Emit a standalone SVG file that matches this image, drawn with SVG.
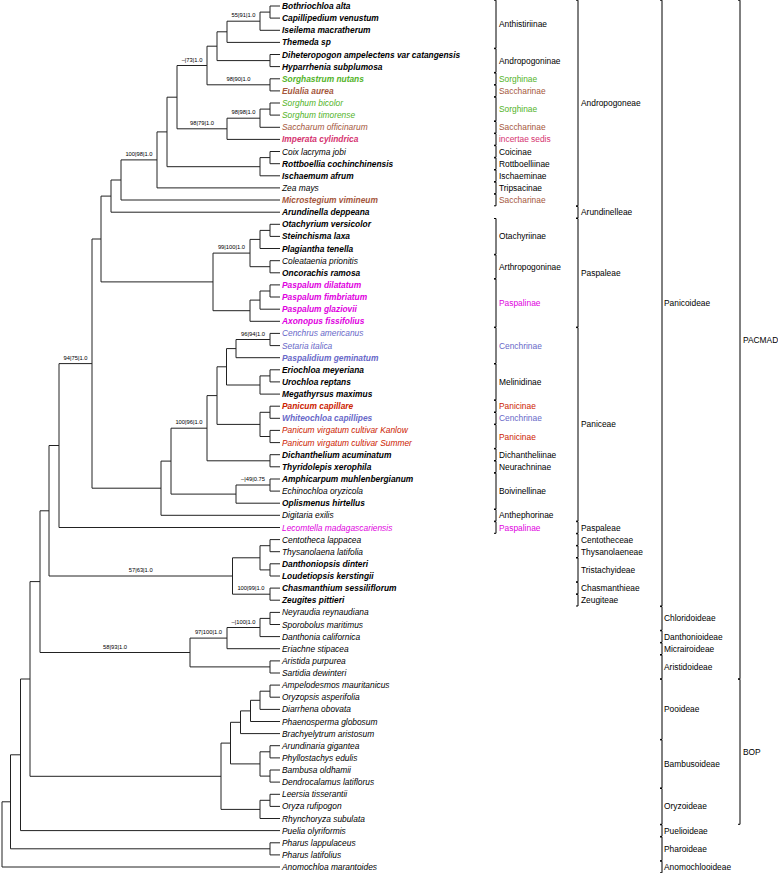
<svg xmlns="http://www.w3.org/2000/svg" width="778" height="873" viewBox="0 0 778 873">
<style>
text{font-family:"Liberation Sans",Arial,sans-serif;fill:#000}
.t{font-size:8.4px;font-style:italic}
.b{font-weight:bold}
.s{font-size:5.8px;text-anchor:middle}
.c{font-size:8.4px}
.g{fill:#52b328}.br{fill:#a5573c}.pk{fill:#d5336f}.mg{fill:#e000e0}.bl{fill:#6868c8}.rd{fill:#cc2200}
.e{fill:none;stroke:#222;stroke-width:1}
.k{fill:none;stroke:#000;stroke-width:1}
</style>
<rect width="778" height="873" fill="#fff"/>
<g id="connectors" class="e">
<path d="M270 6V18.1M270 6H280M270 18.1H280"/>
<path d="M260 12.1V30.3M260 12.1H270M260 30.3H280"/>
<path d="M227 21.2V42.4M227 21.2H260M227 42.4H280"/>
<path d="M270 54.5V66.6M270 54.5H280M270 66.6H280"/>
<path d="M217 31.8V60.6M217 31.8H227M217 60.6H270"/>
<path d="M270 78.8V90.9M270 78.8H280M270 90.9H280"/>
<path d="M207 46.2V84.8M207 46.2H217M207 84.8H270"/>
<path d="M270 103V115.1M270 103H280M270 115.1H280"/>
<path d="M260 109.1V127.3M260 109.1H270M260 127.3H280"/>
<path d="M227 118.2V139.4M227 118.2H260M227 139.4H280"/>
<path d="M177 65.5V128.8M177 65.5H207M177 128.8H227"/>
<path d="M270 151.5V163.7M270 151.5H280M270 163.7H280"/>
<path d="M260 157.6V175.8M260 157.6H270M260 175.8H280"/>
<path d="M167 97.2V166.7M167 97.2H177M167 166.7H260"/>
<path d="M157 131.9V187.9M157 131.9H167M157 187.9H280"/>
<path d="M121 159.9V200M121 159.9H157M121 200H280"/>
<path d="M111 180V212.2M111 180H121M111 212.2H280"/>
<path d="M270 224.3V236.4M270 224.3H280M270 236.4H280"/>
<path d="M260 230.4V248.5M260 230.4H270M260 248.5H280"/>
<path d="M270 260.7V272.8M270 260.7H280M270 272.8H280"/>
<path d="M250 239.4V266.7M250 239.4H260M250 266.7H270"/>
<path d="M270 284.9V297M270 284.9H280M270 297H280"/>
<path d="M260 291V309.2M260 291H270M260 309.2H280"/>
<path d="M250 300.1V321.3M250 300.1H260M250 321.3H280"/>
<path d="M213 253.1V310.7M213 253.1H250M213 310.7H250"/>
<path d="M101 196.1V281.9M101 196.1H111M101 281.9H213"/>
<path d="M270 333.4V345.6M270 333.4H280M270 345.6H280"/>
<path d="M236 339.5V357.7M236 339.5H270M236 357.7H280"/>
<path d="M270 369.8V381.9M270 369.8H280M270 381.9H280"/>
<path d="M260 375.9V394.1M260 375.9H270M260 394.1H280"/>
<path d="M226.5 348.6V385M226.5 348.6H236M226.5 385H260"/>
<path d="M270 406.2V418.3M270 406.2H280M270 418.3H280"/>
<path d="M270 430.4V442.6M270 430.4H280M270 442.6H280"/>
<path d="M260 412.3V436.5M260 412.3H270M260 436.5H270"/>
<path d="M217 366.8V424.4M217 366.8H226.5M217 424.4H260"/>
<path d="M270 454.7V466.8M270 454.7H280M270 466.8H280"/>
<path d="M207 395.6V460.8M207 395.6H217M207 460.8H270"/>
<path d="M270 479V491.1M270 479H280M270 491.1H280"/>
<path d="M236 485V503.2M236 485H270M236 503.2H280"/>
<path d="M171 428.2V494.1M171 428.2H207M171 494.1H236"/>
<path d="M161 461.1V515.3M161 461.1H171M161 515.3H280"/>
<path d="M92 239V488.2M92 239H101M92 488.2H161"/>
<path d="M59 363.6V527.5M59 363.6H92M59 527.5H280"/>
<path d="M270 539.6V551.7M270 539.6H280M270 551.7H280"/>
<path d="M270 563.8V576M270 563.8H280M270 576H280"/>
<path d="M260 545.7V569.9M260 545.7H270M260 569.9H270"/>
<path d="M270 588.1V600.2M270 588.1H280M270 600.2H280"/>
<path d="M232.5 557.8V594.2M232.5 557.8H260M232.5 594.2H270"/>
<path d="M49 445.5V576M49 445.5H59M49 576H232.5"/>
<path d="M270 612.4V624.5M270 612.4H280M270 624.5H280"/>
<path d="M260 618.4V636.6M260 618.4H270M260 636.6H280"/>
<path d="M227 627.5V648.7M227 627.5H260M227 648.7H280"/>
<path d="M270 660.9V673M270 660.9H280M270 673H280"/>
<path d="M190 638.1V666.9M190 638.1H227M190 666.9H270"/>
<path d="M40 510.8V652.5M40 510.8H49M40 652.5H190"/>
<path d="M270 685.1V697.2M270 685.1H280M270 697.2H280"/>
<path d="M260 691.2V709.4M260 691.2H270M260 709.4H280"/>
<path d="M250.5 700.3V721.5M250.5 700.3H260M250.5 721.5H280"/>
<path d="M240.5 710.9V733.6M240.5 710.9H250.5M240.5 733.6H280"/>
<path d="M270 745.7V757.9M270 745.7H280M270 757.9H280"/>
<path d="M270 770V782.1M270 770H280M270 782.1H280"/>
<path d="M260 751.8V776.1M260 751.8H270M260 776.1H270"/>
<path d="M230.5 722.3V763.9M230.5 722.3H240.5M230.5 763.9H260"/>
<path d="M270 794.3V806.4M270 794.3H280M270 806.4H280"/>
<path d="M260 800.3V818.5M260 800.3H270M260 818.5H280"/>
<path d="M221 743.1V809.4M221 743.1H230.5M221 809.4H260"/>
<path d="M30 581.6V776.3M30 581.6H40M30 776.3H221"/>
<path d="M20.5 679V830.6M20.5 679H30M20.5 830.6H280"/>
<path d="M270 842.8V854.9M270 842.8H280M270 854.9H280"/>
<path d="M10.5 754.8V848.8M10.5 754.8H20.5M10.5 848.8H270"/>
<path d="M2 801.8V867M2 801.8H10.5M2 867H280"/>
</g>
<g id="support">
<text class="s" x="243.5" y="17.4">55|91|1.0</text>
<text class="s" x="192" y="61.7">–|73|1.0</text>
<text class="s" x="238.5" y="81">98|90|1.0</text>
<text class="s" x="243.5" y="114.4">98|98|1.0</text>
<text class="s" x="202" y="125">98|79|1.0</text>
<text class="s" x="139" y="156.1">100|98|1.0</text>
<text class="s" x="231.5" y="249.3">99|100|1.0</text>
<text class="s" x="253" y="335.7">96|94|1.0</text>
<text class="s" x="75.5" y="359.8">94|75|1.0</text>
<text class="s" x="189" y="424.4">100|96|1.0</text>
<text class="s" x="253" y="481.2">–|49|0.75</text>
<text class="s" x="140.7" y="572.2">57|63|1.0</text>
<text class="s" x="251" y="590.4">100|99|1.0</text>
<text class="s" x="115" y="648.7">58|93|1.0</text>
<text class="s" x="208.5" y="634.3">97|100|1.0</text>
<text class="s" x="243.5" y="623.7">–|100|1.0</text>
</g>
<g id="leaf1"><text class="t b" x="282" y="9">Bothriochloa alta</text></g>
<g id="leaf2"><text class="t b" x="282" y="21.1">Capillipedium venustum</text></g>
<g id="leaf3"><text class="t b" x="282" y="33.3">Iseilema macratherum</text></g>
<g id="leaf4"><text class="t b" x="282" y="45.4">Themeda sp</text></g>
<g id="leaf5"><text class="t b" x="282" y="57.5">Diheteropogon ampelectens var catangensis</text></g>
<g id="leaf6"><text class="t b" x="282" y="69.6">Hyparrhenia subplumosa</text></g>
<g id="leaf7"><text class="t b g" x="282" y="81.8">Sorghastrum nutans</text></g>
<g id="leaf8"><text class="t b br" x="282" y="93.9">Eulalia aurea</text></g>
<g id="leaf9"><text class="t g" x="282" y="106">Sorghum bicolor</text></g>
<g id="leaf10"><text class="t g" x="282" y="118.1">Sorghum timorense</text></g>
<g id="leaf11"><text class="t br" x="282" y="130.3">Saccharum officinarum</text></g>
<g id="leaf12"><text class="t b pk" x="282" y="142.4">Imperata cylindrica</text></g>
<g id="leaf13"><text class="t" x="282" y="154.5">Coix lacryma jobi</text></g>
<g id="leaf14"><text class="t b" x="282" y="166.7">Rottboellia cochinchinensis</text></g>
<g id="leaf15"><text class="t b" x="282" y="178.8">Ischaemum afrum</text></g>
<g id="leaf16"><text class="t" x="282" y="190.9">Zea mays</text></g>
<g id="leaf17"><text class="t b br" x="282" y="203">Microstegium vimineum</text></g>
<g id="leaf18"><text class="t b" x="282" y="215.2">Arundinella deppeana</text></g>
<g id="leaf19"><text class="t b" x="282" y="227.3">Otachyrium versicolor</text></g>
<g id="leaf20"><text class="t b" x="282" y="239.4">Steinchisma laxa</text></g>
<g id="leaf21"><text class="t b" x="282" y="251.5">Plagiantha tenella</text></g>
<g id="leaf22"><text class="t" x="282" y="263.7">Coleataenia prionitis</text></g>
<g id="leaf23"><text class="t b" x="282" y="275.8">Oncorachis ramosa</text></g>
<g id="leaf24"><text class="t b mg" x="282" y="287.9">Paspalum dilatatum</text></g>
<g id="leaf25"><text class="t b mg" x="282" y="300">Paspalum fimbriatum</text></g>
<g id="leaf26"><text class="t b mg" x="282" y="312.2">Paspalum glaziovii</text></g>
<g id="leaf27"><text class="t b mg" x="282" y="324.3">Axonopus fissifolius</text></g>
<g id="leaf28"><text class="t bl" x="282" y="336.4">Cenchrus americanus</text></g>
<g id="leaf29"><text class="t bl" x="282" y="348.6">Setaria italica</text></g>
<g id="leaf30"><text class="t b bl" x="282" y="360.7">Paspalidium geminatum</text></g>
<g id="leaf31"><text class="t b" x="282" y="372.8">Eriochloa meyeriana</text></g>
<g id="leaf32"><text class="t b" x="282" y="384.9">Urochloa reptans</text></g>
<g id="leaf33"><text class="t b" x="282" y="397.1">Megathyrsus maximus</text></g>
<g id="leaf34"><text class="t b rd" x="282" y="409.2">Panicum capillare</text></g>
<g id="leaf35"><text class="t b bl" x="282" y="421.3">Whiteochloa capillipes</text></g>
<g id="leaf36"><text class="t rd" x="282" y="433.4">Panicum virgatum cultivar Kanlow</text></g>
<g id="leaf37"><text class="t rd" x="282" y="445.6">Panicum virgatum cultivar Summer</text></g>
<g id="leaf38"><text class="t b" x="282" y="457.7">Dichanthelium acuminatum</text></g>
<g id="leaf39"><text class="t b" x="282" y="469.8">Thyridolepis xerophila</text></g>
<g id="leaf40"><text class="t b" x="282" y="482">Amphicarpum muhlenbergianum</text></g>
<g id="leaf41"><text class="t" x="282" y="494.1">Echinochloa oryzicola</text></g>
<g id="leaf42"><text class="t b" x="282" y="506.2">Oplismenus hirtellus</text></g>
<g id="leaf43"><text class="t" x="282" y="518.3">Digitaria exilis</text></g>
<g id="leaf44"><text class="t mg" x="282" y="530.5">Lecomtella madagascariensis</text></g>
<g id="leaf45"><text class="t" x="282" y="542.6">Centotheca lappacea</text></g>
<g id="leaf46"><text class="t" x="282" y="554.7">Thysanolaena latifolia</text></g>
<g id="leaf47"><text class="t b" x="282" y="566.8">Danthoniopsis dinteri</text></g>
<g id="leaf48"><text class="t b" x="282" y="579">Loudetiopsis kerstingii</text></g>
<g id="leaf49"><text class="t b" x="282" y="591.1">Chasmanthium sessiliflorum</text></g>
<g id="leaf50"><text class="t b" x="282" y="603.2">Zeugites pittieri</text></g>
<g id="leaf51"><text class="t" x="282" y="615.4">Neyraudia reynaudiana</text></g>
<g id="leaf52"><text class="t" x="282" y="627.5">Sporobolus maritimus</text></g>
<g id="leaf53"><text class="t" x="282" y="639.6">Danthonia californica</text></g>
<g id="leaf54"><text class="t" x="282" y="651.7">Eriachne stipacea</text></g>
<g id="leaf55"><text class="t" x="282" y="663.9">Aristida purpurea</text></g>
<g id="leaf56"><text class="t" x="282" y="676">Sartidia dewinteri</text></g>
<g id="leaf57"><text class="t" x="282" y="688.1">Ampelodesmos mauritanicus</text></g>
<g id="leaf58"><text class="t" x="282" y="700.2">Oryzopsis asperifolia</text></g>
<g id="leaf59"><text class="t" x="282" y="712.4">Diarrhena obovata</text></g>
<g id="leaf60"><text class="t" x="282" y="724.5">Phaenosperma globosum</text></g>
<g id="leaf61"><text class="t" x="282" y="736.6">Brachyelytrum aristosum</text></g>
<g id="leaf62"><text class="t" x="282" y="748.7">Arundinaria gigantea</text></g>
<g id="leaf63"><text class="t" x="282" y="760.9">Phyllostachys edulis</text></g>
<g id="leaf64"><text class="t" x="282" y="773">Bambusa oldhamii</text></g>
<g id="leaf65"><text class="t" x="282" y="785.1">Dendrocalamus latiflorus</text></g>
<g id="leaf66"><text class="t" x="282" y="797.3">Leersia tisserantii</text></g>
<g id="leaf67"><text class="t" x="282" y="809.4">Oryza rufipogon</text></g>
<g id="leaf68"><text class="t" x="282" y="821.5">Rhynchoryza subulata</text></g>
<g id="leaf69"><text class="t" x="282" y="833.6">Puelia olyriformis</text></g>
<g id="leaf70"><text class="t" x="282" y="845.8">Pharus lappulaceus</text></g>
<g id="leaf71"><text class="t" x="282" y="857.9">Pharus latifolius</text></g>
<g id="leaf72"><text class="t" x="282" y="870">Anomochloa marantoides</text></g>
<g id="subtribes">
<g class="k">
<path d="M494 0.2H496V48.2H494"/>
<path d="M494 48.7H496V72.4H494"/>
<path d="M494 73H496V84.6H494"/>
<path d="M494 85.1H496V96.7H494"/>
<path d="M494 97.2H496V120.9H494"/>
<path d="M494 121.5H496V133.1H494"/>
<path d="M494 133.6H496V145.2H494"/>
<path d="M494 145.7H496V157.3H494"/>
<path d="M494 157.9H496V169.5H494"/>
<path d="M494 170H496V181.6H494"/>
<path d="M494 182.1H496V193.7H494"/>
<path d="M494 194.2H496V205.8H494"/>
<path d="M494 218.5H496V254.3H494"/>
<path d="M494 254.9H496V278.6H494"/>
<path d="M494 279.1H496V327.1H494"/>
<path d="M494 327.6H496V363.5H494"/>
<path d="M494 364H496V399.9H494"/>
<path d="M494 400.4H496V412H494"/>
<path d="M494 412.5H496V424.1H494"/>
<path d="M494 424.6H496V448.4H494"/>
<path d="M494 448.9H496V460.5H494"/>
<path d="M494 461H496V472.6H494"/>
<path d="M494 473.2H496V509H494"/>
<path d="M494 509.5H496V521.1H494"/>
<path d="M494 521.7H496V533.3H494"/>
</g>
<text class="c" x="499" y="27.2">Anthistiriinae</text>
<text class="c" x="499" y="63.6">Andropogoninae</text>
<text class="c g" x="499" y="81.8">Sorghinae</text>
<text class="c br" x="499" y="93.9">Saccharinae</text>
<text class="c g" x="499" y="112.1">Sorghinae</text>
<text class="c br" x="499" y="130.3">Saccharinae</text>
<text class="c pk" x="499" y="142.4">incertae sedis</text>
<text class="c" x="499" y="154.5">Coicinae</text>
<text class="c" x="499" y="166.7">Rottboelliinae</text>
<text class="c" x="499" y="178.8">Ischaeminae</text>
<text class="c" x="499" y="190.9">Tripsacinae</text>
<text class="c br" x="499" y="203">Saccharinae</text>
<text class="c" x="499" y="239.4">Otachyriinae</text>
<text class="c" x="499" y="269.7">Arthropogoninae</text>
<text class="c mg" x="499" y="306.1">Paspalinae</text>
<text class="c bl" x="499" y="348.6">Cenchrinae</text>
<text class="c" x="499" y="384.9">Melinidinae</text>
<text class="c rd" x="499" y="409.2">Panicinae</text>
<text class="c bl" x="499" y="421.3">Cenchrinae</text>
<text class="c rd" x="499" y="439.5">Panicinae</text>
<text class="c" x="499" y="457.7">Dichantheliinae</text>
<text class="c" x="499" y="469.8">Neurachninae</text>
<text class="c" x="499" y="494.1">Boivinellinae</text>
<text class="c" x="499" y="518.3">Anthephorinae</text>
<text class="c mg" x="499" y="530.5">Paspalinae</text>
</g>
<g id="tribes">
<g class="k">
<path d="M576 0.2H578V205.8H576"/>
<path d="M576 206.4H578V218H576"/>
<path d="M576 218.5H578V327.1H576"/>
<path d="M576 327.6H578V521.1H576"/>
<path d="M576 521.7H578V533.3H576"/>
<path d="M576 533.8H578V545.4H576"/>
<path d="M576 545.9H578V557.5H576"/>
<path d="M576 558H578V581.8H576"/>
<path d="M576 582.3H578V593.9H576"/>
<path d="M576 594.4H578V606H576"/>
</g>
<text class="c" x="581" y="106">Andropogoneae</text>
<text class="c" x="581" y="215.2">Arundinelleae</text>
<text class="c" x="581" y="275.8">Paspaleae</text>
<text class="c" x="581" y="427.4">Paniceae</text>
<text class="c" x="581" y="530.5">Paspaleae</text>
<text class="c" x="581" y="542.6">Centotheceae</text>
<text class="c" x="581" y="554.7">Thysanolaeneae</text>
<text class="c" x="581" y="572.9">Tristachyideae</text>
<text class="c" x="581" y="591.1">Chasmanthieae</text>
<text class="c" x="581" y="603.2">Zeugiteae</text>
</g>
<g id="subfamilies">
<g class="k">
<path d="M660 0.2H662V606H660"/>
<path d="M660 606.6H662V630.3H660"/>
<path d="M660 630.8H662V642.4H660"/>
<path d="M660 642.9H662V654.5H660"/>
<path d="M660 655.1H662V678.8H660"/>
<path d="M660 679.3H662V739.4H660"/>
<path d="M660 739.9H662V787.9H660"/>
<path d="M660 788.5H662V824.3H660"/>
<path d="M660 824.8H662V836.4H660"/>
<path d="M660 837H662V860.7H660"/>
<path d="M660 861.2H662V872.8H660"/>
</g>
<text class="c" x="664" y="306.1">Panicoideae</text>
<text class="c" x="664" y="621.4">Chloridoideae</text>
<text class="c" x="664" y="639.6">Danthonioideae</text>
<text class="c" x="664" y="651.7">Micrairoideae</text>
<text class="c" x="664" y="670">Aristidoideae</text>
<text class="c" x="664" y="712.4">Pooideae</text>
<text class="c" x="664" y="766.9">Bambusoideae</text>
<text class="c" x="664" y="809.4">Oryzoideae</text>
<text class="c" x="664" y="833.6">Puelioideae</text>
<text class="c" x="664" y="851.8">Pharoideae</text>
<text class="c" x="664" y="870">Anomochlooideae</text>
</g>
<g id="clades">
<g class="k">
<path d="M738 0.2H740V678.8H738"/>
<path d="M738 679.3H740V824.3H738"/>
</g>
<text class="c" x="743" y="342.5">PACMAD</text>
<text class="c" x="743" y="754.8">BOP</text>
</g>
</svg>
